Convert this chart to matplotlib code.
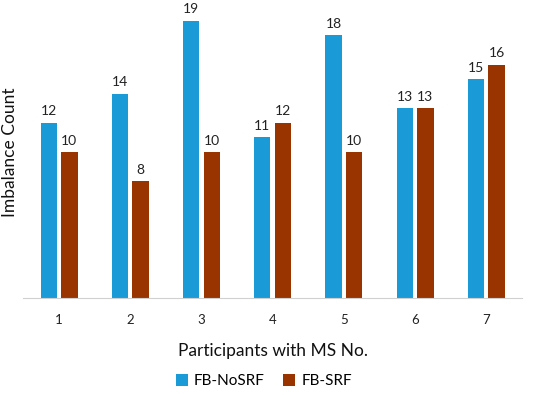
import numpy as np
import matplotlib.pyplot as plt

participants = ['1', '2', '3', '4', '5', '6', '7']
fb_nosrf = [12, 14, 19, 11, 18, 13, 15]
fb_srf = [10, 8, 10, 12, 10, 13, 16]

blue = '#1a9bd7'
brown = '#993300'

plt.rcParams['font.family'] = ['Lato', 'DejaVu Sans']

fig = plt.figure(figsize=(5.33, 3.95), dpi=100)
ax = fig.add_axes([0.044, 0.246, 0.935, 0.738])

x = np.arange(len(participants))
w = 0.23
gap = 0.03
b1 = ax.bar(x - w / 2 - gap, fb_nosrf, w, color=blue, label='FB-NoSRF')
b2 = ax.bar(x + w / 2 + gap, fb_srf, w, color=brown, label='FB-SRF')
ax.bar_label(b1, padding=4, fontsize=10, color='#222222')
ax.bar_label(b2, padding=4, fontsize=10, color='#222222')

ax.set_xlim(-0.5, len(participants) - 0.5)
ax.set_ylim(0, 20)
ax.set_xticks(x)
ax.set_xticklabels(participants, fontsize=9.5, color='#222222')
ax.set_yticks([])
ax.tick_params(axis='x', length=0, pad=12)
for s in ['top', 'right', 'left']:
    ax.spines[s].set_visible(False)
ax.spines['bottom'].set_color('#d0d0d0')

ax.set_xlabel('Participants with MS No.', fontsize=12.5, color='#111111', labelpad=12)
ax.set_ylabel('Imbalance Count', fontsize=12.5, color='#111111', labelpad=4)

fig.legend(loc='lower center', bbox_to_anchor=(0.495, -0.018), ncol=2, frameon=False,
           fontsize=11, handlelength=0.8, handleheight=0.8, handletextpad=0.4,
           columnspacing=1.2)

fig.savefig('out.png', dpi=100)
